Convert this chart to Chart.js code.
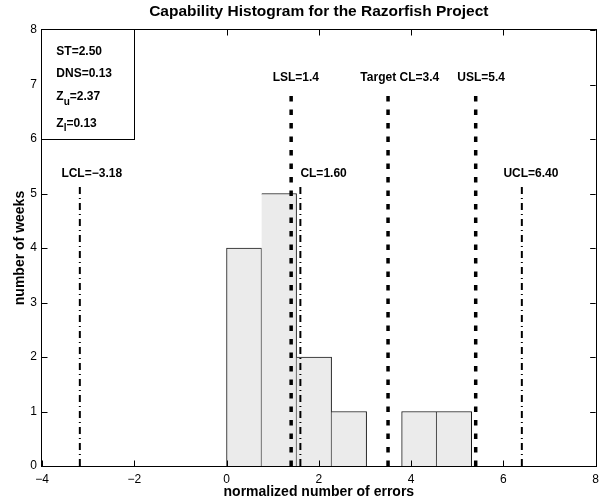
<!DOCTYPE html>
<html><head><meta charset="utf-8">
<script src="https://cdn.jsdelivr.net/npm/chart.js@4.4.0/dist/chart.umd.min.js"></script>
<style>html,body{margin:0;padding:0;background:#fff;}#wrap{width:605px;height:504px;position:relative;}</style>
</head><body><div id="wrap"><canvas id="c"></canvas></div>
<script>
// ---- data ----
const binCenters = [0.379, 1.138, 1.897, 2.656, 3.415, 4.174, 4.933];
const weekCounts = [4, 5, 2, 1, 0, 1, 1];
const specLimitLabels = ['LSL=1.4', 'Target CL=3.4', 'USL=5.4'];
const specLimitValues = [1.4, 3.5, 5.4];
const specLineTop = 6.92;
const specLabelLevel = 7.13;
const specLabelShift = [-0.4, -0.6, -0.4];
const controlLimitLabels = ['LCL=\u22123.18', 'CL=1.60', 'UCL=6.40'];
const controlLimitValues = [-3.18, 1.60, 6.40];
const controlLineTop = 5.17;
const controlLabelLevel = 5.36;
const controlLabelShift = [-0.4, 0.0, -0.4];
const statMain = ['ST', 'DNS', 'Z', 'Z'];
const statSub = ['', '', 'u', 'l'];
const statValues = ['2.50', '0.13', '2.37', '0.13'];
const statBoxX = [-4, -2];
const statBoxY = [6, 8];
const xTickValues = [-4, -2, 0, 2, 4, 6, 8];
const yTickValues = [0, 1, 2, 3, 4, 5, 6, 7, 8];
const titleText = 'Capability Histogram for the Razorfish Project';
const xTitle = 'normalized number of errors';
const yTitle = 'number of weeks';

const FONT = '"Liberation Sans", Arial, Helvetica, sans-serif';

const datasets = [{
  type: 'bar',
  data: binCenters.map((c, i) => ({x: c, y: weekCounts[i]})),
  backgroundColor: '#ebebeb',
  borderColor: '#1a1a1a',
  borderSkipped: false,
  borderWidth: (ctx) => ({
    left: (ctx.dataIndex === 0 || weekCounts[ctx.dataIndex - 1] === 0) ? 1 : 0,
    right: 1, top: 1, bottom: 0
  }),
  barPercentage: 1,
  categoryPercentage: 1,
  order: 2
}];
specLimitValues.forEach(v => datasets.push({
  type: 'line', data: [{x: v, y: 0}, {x: v, y: specLineTop}],
  borderColor: '#000', borderWidth: 3.5, borderDash: [5.5, 8], borderCapStyle: 'butt',
  pointRadius: 0, fill: false, order: 1
}));
controlLimitValues.forEach(v => datasets.push({
  type: 'line', data: [{x: v, y: 0}, {x: v, y: controlLineTop}],
  borderColor: '#000', borderWidth: 2, borderDash: [7, 4, 1, 4], borderCapStyle: 'butt',
  pointRadius: 0, fill: false, order: 1
}));

const overlay = {
  id: 'overlay',
  afterDraw(chart) {
    const {ctx, chartArea: a, scales: {x, y}} = chart;
    ctx.save();
    ctx.strokeStyle = '#000'; ctx.lineWidth = 1;
    const tl = 5.5;
    xTickValues.forEach(v => {
      const px = Math.round(x.getPixelForValue(v)) + 0.5;
      ctx.beginPath();
      ctx.moveTo(px, a.bottom); ctx.lineTo(px, a.bottom - tl);
      ctx.moveTo(px, a.top); ctx.lineTo(px, a.top + tl);
      ctx.stroke();
    });
    yTickValues.forEach(v => {
      const py = Math.round(y.getPixelForValue(v)) + 0.5;
      ctx.beginPath();
      ctx.moveTo(a.left, py); ctx.lineTo(a.left + tl, py);
      ctx.moveTo(a.right, py); ctx.lineTo(a.right - tl, py);
      ctx.stroke();
    });
    ctx.strokeRect(Math.round(a.left) - 0.5, Math.round(a.top) - 0.5,
      Math.round(a.right) - Math.round(a.left) + 1, Math.round(a.bottom) - Math.round(a.top) + 1);

    // stats box
    const bx0 = x.getPixelForValue(statBoxX[0]), bx1 = x.getPixelForValue(statBoxX[1]);
    const by0 = y.getPixelForValue(statBoxY[1]), by1 = y.getPixelForValue(statBoxY[0]);
    ctx.fillStyle = '#fff';
    ctx.fillRect(bx0, by0, bx1 - bx0, by1 - by0);
    ctx.strokeRect(Math.round(bx0) - 0.5, Math.round(by0) - 0.5, Math.round(bx1 - bx0) + 1, Math.round(by1 - by0) + 1);
    ctx.fillStyle = '#000';
    ctx.textBaseline = 'middle';
    ctx.textAlign = 'left';
    const fr = [0.20, 0.405, 0.615, 0.855];
    statMain.forEach((m, i) => {
      let tx = bx0 + 0.155 * (bx1 - bx0);
      const ty = by0 + fr[i] * (by1 - by0);
      ctx.font = 'bold 12px ' + FONT;
      ctx.fillText(m, tx, ty);
      tx += ctx.measureText(m).width;
      if (statSub[i]) {
        ctx.font = 'bold 10px ' + FONT;
        ctx.fillText(statSub[i], tx, ty + 5);
        tx += ctx.measureText(statSub[i]).width;
        ctx.font = 'bold 12px ' + FONT;
      }
      ctx.fillText('=' + statValues[i], tx, ty);
    });

    // limit labels
    ctx.font = 'bold 12px ' + FONT;
    specLimitValues.forEach((v, i) => {
      ctx.fillText(specLimitLabels[i], x.getPixelForValue(v + specLabelShift[i]), y.getPixelForValue(specLabelLevel));
    });
    controlLimitValues.forEach((v, i) => {
      ctx.fillText(controlLimitLabels[i], x.getPixelForValue(v + controlLabelShift[i]), y.getPixelForValue(controlLabelLevel));
    });

    // titles
    ctx.textAlign = 'center';
    ctx.font = 'bold 15.5px ' + FONT;
    ctx.fillText(titleText, (a.left + a.right) / 2, 12);
    ctx.font = 'bold 14px ' + FONT;
    ctx.fillText(xTitle, (a.left + a.right) / 2, 492);
    ctx.save();
    ctx.translate(20, (a.top + a.bottom) / 2);
    ctx.rotate(-Math.PI / 2);
    ctx.fillText(yTitle, 0, 0);
    ctx.restore();
    ctx.restore();
  }
};

const minus = (v) => String(v).replace('-', '\u2212');

new Chart(document.getElementById('c'), {
  type: 'bar',
  data: {datasets},
  options: {
    responsive: true, maintainAspectRatio: false, animation: false,
    layout: {padding: {left: 0, right: 9, top: 30, bottom: 0}},
    plugins: {legend: {display: false}, tooltip: {enabled: false}, title: {display: false}},
    scales: {
      x: {
        type: 'linear', min: xTickValues[0], max: xTickValues[xTickValues.length - 1], offset: false,
        grid: {display: false, drawTicks: false}, border: {display: false},
        afterBuildTicks: (s) => { s.ticks = xTickValues.map(v => ({value: v})); },
        ticks: {padding: 6, color: '#000', font: {family: FONT, size: 12}, maxRotation: 0, callback: minus},
        afterFit: (s) => { s.height = 38; }
      },
      y: {
        type: 'linear', min: 0, max: 8,
        grid: {display: false, drawTicks: false}, border: {display: false},
        afterBuildTicks: (s) => { s.ticks = yTickValues.map(v => ({value: v})); },
        ticks: {padding: 5, color: '#000', font: {family: FONT, size: 12}, callback: minus},
        afterFit: (s) => { s.width = 42; }
      }
    }
  },
  plugins: [overlay]
});
</script></body></html>
